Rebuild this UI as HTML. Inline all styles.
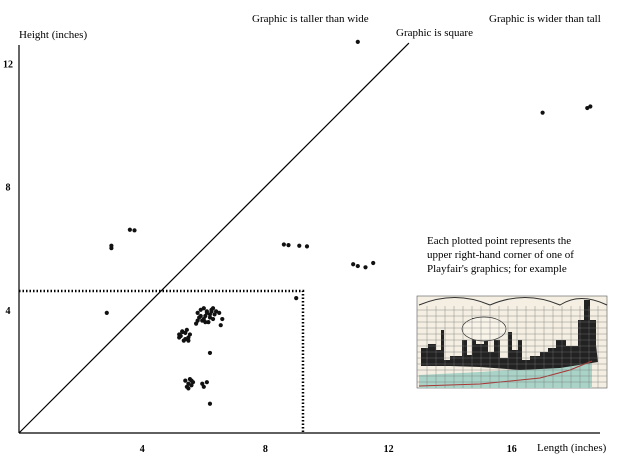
<!DOCTYPE html>
<html><head><meta charset="utf-8"><style>
body{margin:0;background:#fff;}
svg{display:block;font-family:"Liberation Serif",serif;}
</style></head><body>
<svg width="634" height="469">
<rect width="634" height="469" fill="#fff"/>
<g id="axes"></g>
<g id="pts"></g>
<text x="19" y="38" font-size="11">Height (inches)</text>
<text x="537" y="451" font-size="11">Length (inches)</text>
<text x="252" y="22" font-size="11">Graphic is taller than wide</text>
<text x="396" y="36" font-size="11">Graphic is square</text>
<text x="489" y="22" font-size="11">Graphic is wider than tall</text>
<text x="427" y="244" font-size="11">Each plotted point represents the</text>
<text x="427" y="258" font-size="11">upper right-hand corner of one of</text>
<text x="427" y="272" font-size="11">Playfair's graphics; for example</text>
<g>
<rect x="417" y="296" width="190" height="92" fill="#f4efe2" stroke="#555" stroke-width="0.6"/>
<path d="M419 388 L419 375 L480 372 L540 368 L575 360 L592 350 L592 388 Z" fill="#a9d3c6"/>
<path d="M421 348 L428 348 L428 344 L436 344 L436 350 L441 350 L441 330 L444 330 L444 360 L450 360 L450 356 L462 356 L462 340 L467 340 L467 355 L472 355 L472 318 L476 318 L476 344 L484 344 L484 334 L488 334 L488 352 L494 352 L494 340 L500 340 L500 358 L508 358 L508 332 L512 332 L512 350 L518 350 L518 340 L522 340 L522 360 L530 360 L530 356 L540 356 L540 352 L548 352 L548 348 L556 348 L556 340 L566 340 L566 346 L578 346 L578 320 L584 320 L584 300 L590 300 L590 320 L596 320 L596 345 L598 362 L560 368 L520 370 L480 367 L450 366 L421 366 Z" fill="#222"/>
<path d="M419 386 L480 384 L540 378 L570 370 L592 361" stroke="#a33" fill="none" stroke-width="1"/>
<ellipse cx="484" cy="329" rx="22" ry="12" fill="#f8f4ea" stroke="#333" stroke-width="0.7"/>
<path d="M419 305 Q455 290 490 305 Q525 290 560 305 Q580 292 607 305" fill="none" stroke="#333"/>
<g id="grid" stroke="#777" stroke-width="0.4"></g>
</g>
<script>
const xTicks=[4,8,12,16];
const yTicks=[4,8,12];
const lengths=[11.0,17.0,18.45,18.55,3.0,3.0,3.6,3.75,8.6,8.75,9.1,9.35,10.85,11.0,11.25,11.5,2.85,9.0,
5.8,5.9,6.0,6.1,6.2,6.3,6.4,5.85,6.05,6.25,6.15,5.95,6.35,5.75,6.5,6.6,6.55,5.9,6.0,6.1,6.2,6.3,5.8,6.05,6.25,
5.2,5.3,5.4,5.5,5.35,5.45,5.25,5.55,5.4,5.3,5.5,5.2,
5.4,5.5,5.6,5.45,5.55,5.65,5.5,5.95,6.0,6.1,5.6,
6.2,6.2];
const heights=[12.7,10.4,10.55,10.6,6.0,6.08,6.6,6.58,6.12,6.1,6.08,6.06,5.48,5.42,5.38,5.52,3.9,4.38,
3.9,4.0,4.05,3.95,3.85,3.7,3.95,3.75,3.8,4.0,3.6,3.65,3.85,3.55,3.9,3.7,3.5,3.8,3.7,3.9,3.75,4.05,3.65,3.6,3.95,
3.2,3.3,3.25,3.1,3.0,3.35,3.15,3.2,3.05,3.28,3.0,3.1,
1.7,1.6,1.55,1.5,1.75,1.65,1.45,1.6,1.5,1.65,1.7,
2.6,0.95];
const boxW=9.22, boxH=4.61, diagMax=12.66;
const X=v=>19+v*30.8, Y=v=>433-v*30.8;
const ns="http://www.w3.org/2000/svg";
function mk(t,a,p){const e=document.createElementNS(ns,t);for(const k in a)e.setAttribute(k,a[k]);p.appendChild(e);return e;}
const ax=document.getElementById('axes');
let e=mk('line',{x1:19,y1:433,x2:19,y2:45,stroke:'#000','stroke-width':1.2},ax);


e=mk('line',{x1:19,y1:433,x2:600,y2:433,stroke:'#000','stroke-width':1.2},ax);


xTicks.forEach(t=>{const tx=mk('text',{x:X(t),y:452,'font-size':10,'text-anchor':'middle','font-weight':'bold'},ax);tx.textContent=t;

});
yTicks.forEach(t=>{const tx=mk('text',{x:8,y:Y(t)+4,'font-size':10,'text-anchor':'middle','font-weight':'bold'},ax);tx.textContent=t;

});
e=mk('line',{x1:X(0),y1:Y(0),x2:X(diagMax),y2:Y(diagMax),stroke:'#000','stroke-width':1.2},ax);


e=mk('path',{d:`M${X(0)} ${Y(boxH)} H${X(boxW)} V${Y(0)}`,fill:'none',stroke:'#000','stroke-width':2.5,'stroke-dasharray':'1.5 2'},ax);


const pg=document.getElementById('pts');
lengths.forEach((l,i)=>{const c=mk('circle',{cx:X(l),cy:Y(heights[i]),r:2.1,fill:'#111'},pg);

});
const g=document.getElementById('grid');
for(let x=427;x<607;x+=9)mk('line',{x1:x,y1:306,x2:x,y2:388},g);
for(let y=310;y<388;y+=6)mk('line',{x1:417,y1:y,x2:607,y2:y},g);
</script>
</svg>
</body></html>
